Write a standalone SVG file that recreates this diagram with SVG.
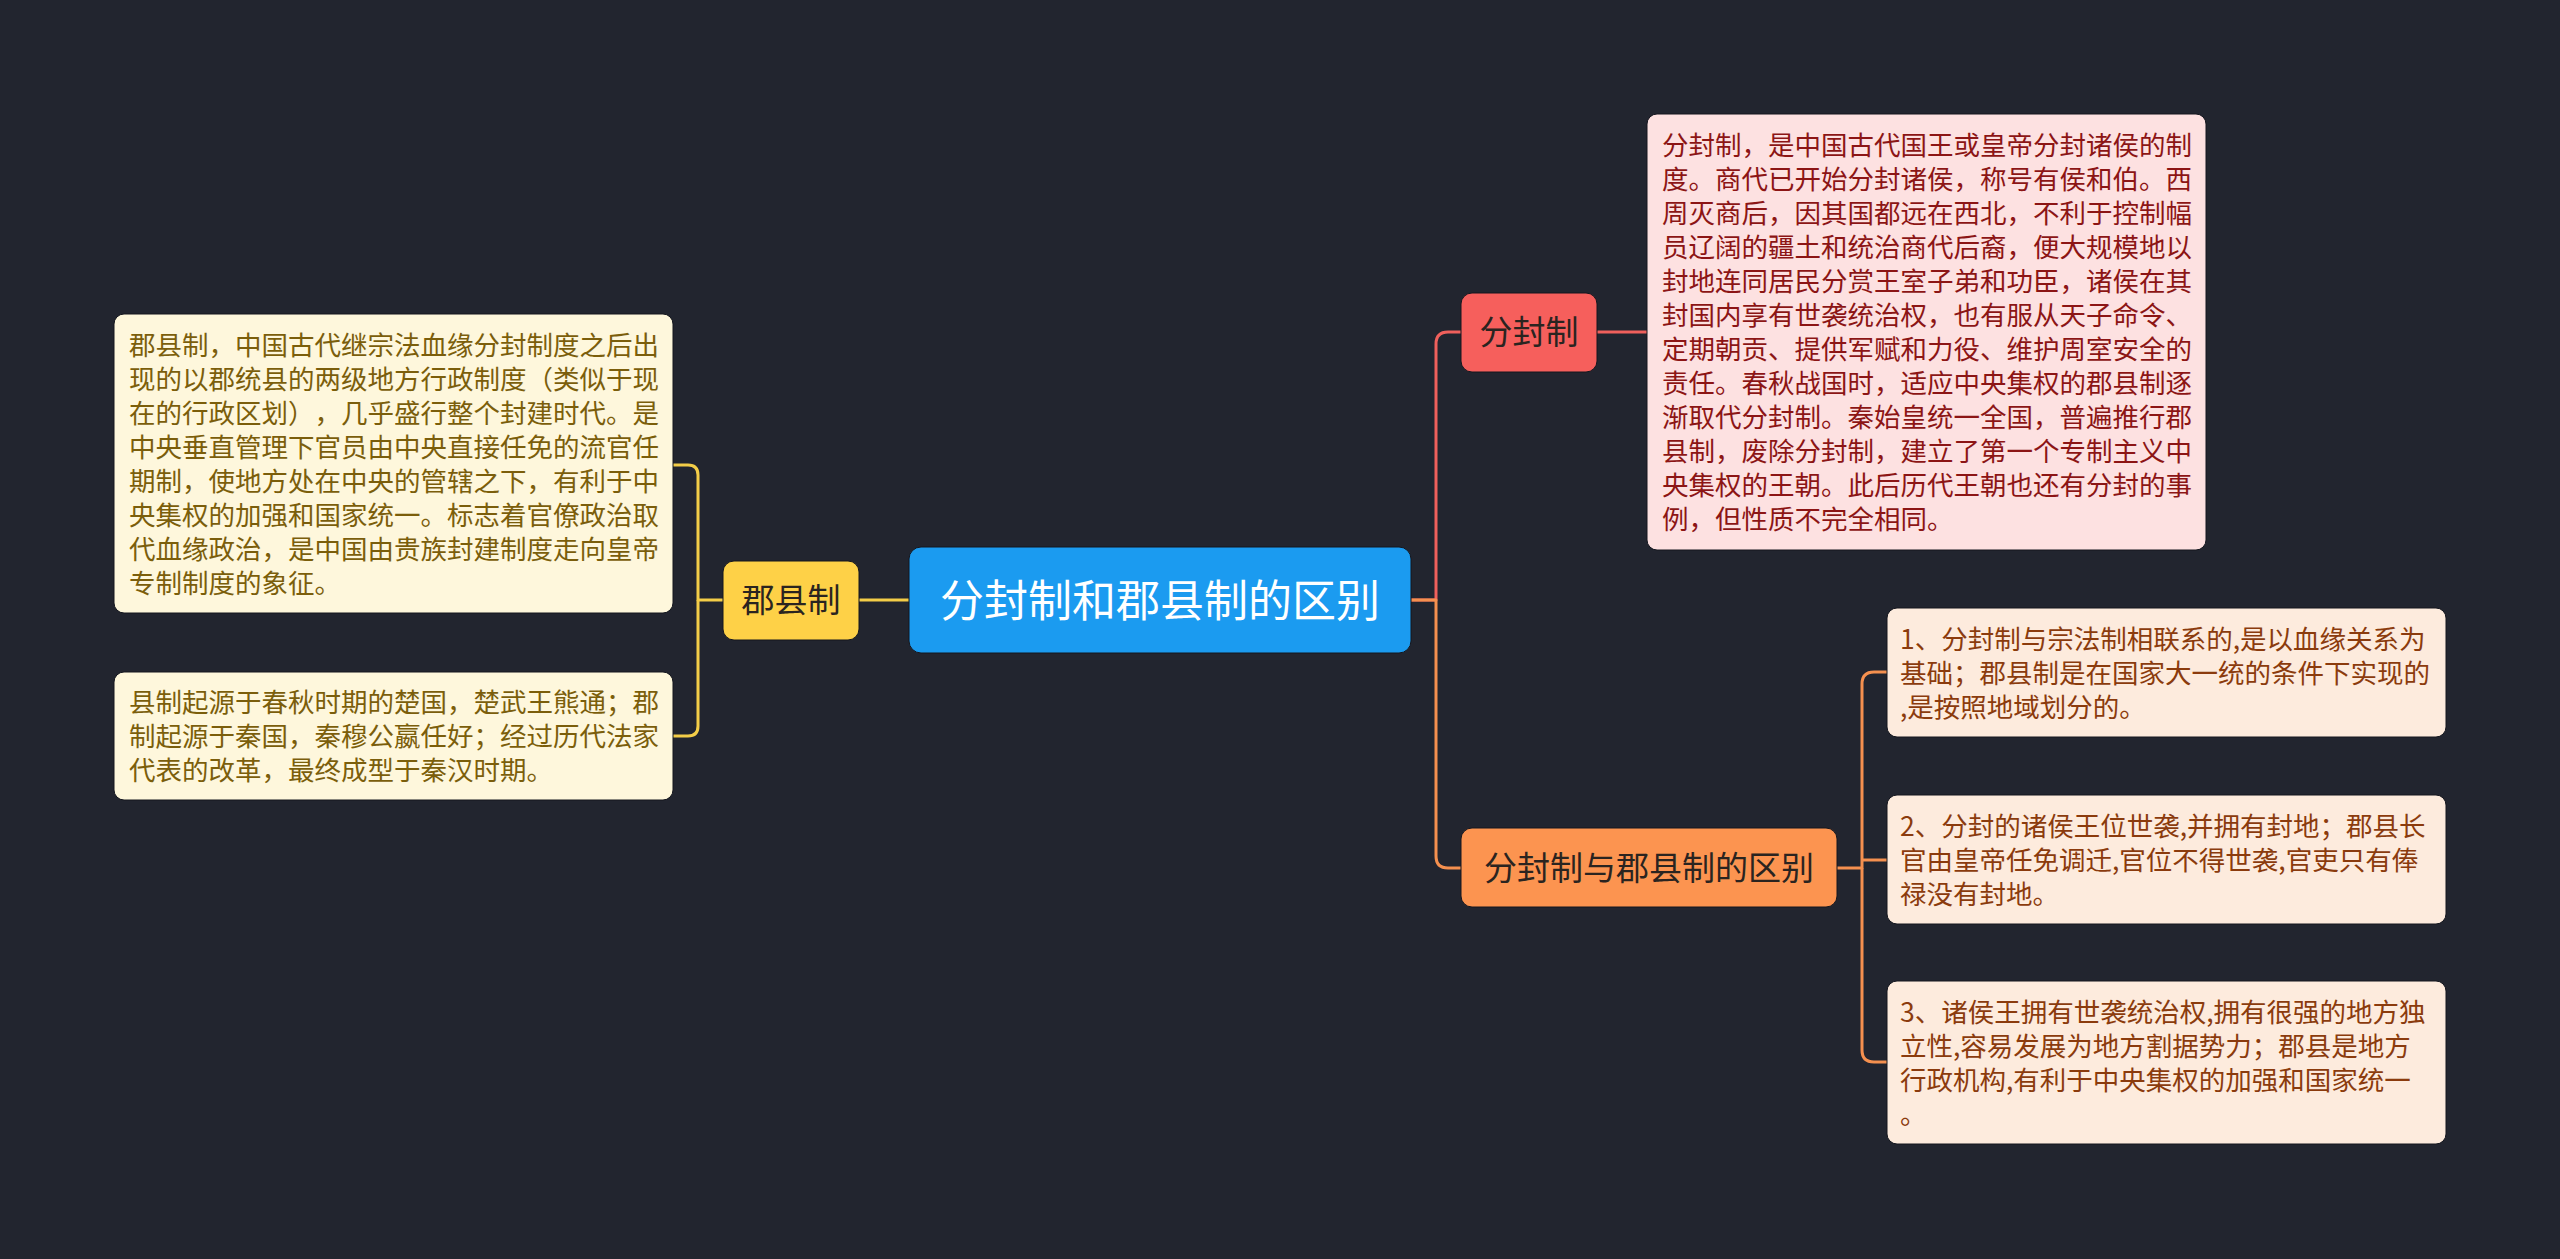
<svg xmlns="http://www.w3.org/2000/svg" width="2560" height="1259" viewBox="0 0 2560 1259">
<style>
text{font-family:"Noto Sans CJK SC","Noto Sans",sans-serif;text-spacing-trim:space-all}
.desc{font-size:26.5px}
.ly{fill:#fef7dc;stroke:#15171f;stroke-width:1}
.ty{fill:#7b5e0b}
.lr{fill:#fde1e1;stroke:#15171f;stroke-width:1}
.tr{fill:#8c1515}
.lo{fill:#fdebdd;stroke:#15171f;stroke-width:1}
.to{fill:#8b3b0d}
.node{font-size:33px;text-anchor:middle;fill:#2a2420}
.c{fill:none;stroke-width:3;stroke-linejoin:round}
</style>
<rect width="2560" height="1259" fill="#22252f"/>
<g id="connectors">
<path class="c" stroke="#f3cd48" d="M909,600 H859"/>
<path class="c" stroke="#f3cd48" d="M723,600 H698 V475 Q698,465 688,465 H673"/>
<path class="c" stroke="#f3cd48" d="M698,600 V726 Q698,736 688,736 H673"/>
<path class="c" stroke="#f0605c" d="M1411,600 H1436 V344 Q1436,332 1448,332 H1461"/>
<path class="c" stroke="#f0605c" d="M1597,332 H1647"/>
<path class="c" stroke="#f5904f" d="M1411,600 H1436 V856 Q1436,868 1448,868 H1461"/>
<path class="c" stroke="#f5904f" d="M1837,868 H1862 V684 Q1862,672 1874,672 H1887"/>
<path class="c" stroke="#f5904f" d="M1862,868 V1050 Q1862,1062 1874,1062 H1887"/>
<path class="c" stroke="#f5904f" d="M1862,860 H1887"/>
</g>
<g id="root">
<rect x="909" y="547" width="502" height="106" rx="12" fill="#1b9bf0" stroke="#15171f" stroke-width="1"/>
<text x="1160" y="617" font-size="44" text-anchor="middle" fill="#ffffff">分封制和郡县制的区别</text>
</g>
<g id="junxianzhi">
<rect x="723" y="561" width="136" height="79" rx="11" fill="#fed147" stroke="#15171f" stroke-width="1"/>
<text class="node" x="791" y="612">郡县制</text>
</g>
<g id="junxian-desc1">
<rect class="ly" x="114" y="314" width="559" height="299" rx="10"/>
<text class="desc ty" x="129" y="354.5">
<tspan x="129">郡县制，中国古代继宗法血缘分封制度之后出</tspan>
<tspan x="129" dy="34">现的以郡统县的两级地方行政制度（类似于现</tspan>
<tspan x="129" dy="34">在的行政区划），几乎盛行整个封建时代。是</tspan>
<tspan x="129" dy="34">中央垂直管理下官员由中央直接任免的流官任</tspan>
<tspan x="129" dy="34">期制，使地方处在中央的管辖之下，有利于中</tspan>
<tspan x="129" dy="34">央集权的加强和国家统一。标志着官僚政治取</tspan>
<tspan x="129" dy="34">代血缘政治，是中国由贵族封建制度走向皇帝</tspan>
<tspan x="129" dy="34">专制制度的象征。</tspan>
</text>
</g>
<g id="junxian-desc2">
<rect class="ly" x="114" y="672" width="559" height="128" rx="10"/>
<text class="desc ty" x="129" y="712">
<tspan x="129">县制起源于春秋时期的楚国，楚武王熊通；郡</tspan>
<tspan x="129" dy="34">制起源于秦国，秦穆公嬴任好；经过历代法家</tspan>
<tspan x="129" dy="34">代表的改革，最终成型于秦汉时期。</tspan>
</text>
</g>
<g id="fenfengzhi">
<rect x="1461" y="293" width="136" height="79" rx="11" fill="#f65f5c" stroke="#15171f" stroke-width="1"/>
<text class="node" x="1529" y="344">分封制</text>
</g>
<g id="fenfeng-desc">
<rect class="lr" x="1647" y="114" width="559" height="436" rx="10"/>
<text class="desc tr" x="1662" y="155">
<tspan x="1662">分封制，是中国古代国王或皇帝分封诸侯的制</tspan>
<tspan x="1662" dy="34">度。商代已开始分封诸侯，称号有侯和伯。西</tspan>
<tspan x="1662" dy="34">周灭商后，因其国都远在西北，不利于控制幅</tspan>
<tspan x="1662" dy="34">员辽阔的疆土和统治商代后裔，便大规模地以</tspan>
<tspan x="1662" dy="34">封地连同居民分赏王室子弟和功臣，诸侯在其</tspan>
<tspan x="1662" dy="34">封国内享有世袭统治权，也有服从天子命令、</tspan>
<tspan x="1662" dy="34">定期朝贡、提供军赋和力役、维护周室安全的</tspan>
<tspan x="1662" dy="34">责任。春秋战国时，适应中央集权的郡县制逐</tspan>
<tspan x="1662" dy="34">渐取代分封制。秦始皇统一全国，普遍推行郡</tspan>
<tspan x="1662" dy="34">县制，废除分封制，建立了第一个专制主义中</tspan>
<tspan x="1662" dy="34">央集权的王朝。此后历代王朝也还有分封的事</tspan>
<tspan x="1662" dy="34">例，但性质不完全相同。</tspan>
</text>
</g>
<g id="qubie">
<rect x="1461" y="828" width="376" height="79" rx="11" fill="#fc9450" stroke="#15171f" stroke-width="1"/>
<text class="node" x="1649" y="880">分封制与郡县制的区别</text>
</g>
<g id="qubie-1">
<rect class="lo" x="1887" y="608" width="559" height="129" rx="10"/>
<text class="desc to" x="1900" y="648.5">
<tspan x="1900">1、分封制与宗法制相联系的,是以血缘关系为</tspan>
<tspan x="1900" dy="34">基础；郡县制是在国家大一统的条件下实现的</tspan>
<tspan x="1900" dy="34">,是按照地域划分的。</tspan>
</text>
</g>
<g id="qubie-2">
<rect class="lo" x="1887" y="795" width="559" height="129" rx="10"/>
<text class="desc to" x="1900" y="835.5">
<tspan x="1900">2、分封的诸侯王位世袭,并拥有封地；郡县长</tspan>
<tspan x="1900" dy="34">官由皇帝任免调迁,官位不得世袭,官吏只有俸</tspan>
<tspan x="1900" dy="34">禄没有封地。</tspan>
</text>
</g>
<g id="qubie-3">
<rect class="lo" x="1887" y="981" width="559" height="163" rx="10"/>
<text class="desc to" x="1900" y="1021.5">
<tspan x="1900">3、诸侯王拥有世袭统治权,拥有很强的地方独</tspan>
<tspan x="1900" dy="34">立性,容易发展为地方割据势力；郡县是地方</tspan>
<tspan x="1900" dy="34">行政机构,有利于中央集权的加强和国家统一</tspan>
<tspan x="1900" dy="34">。</tspan>
</text>
</g>
</svg>
